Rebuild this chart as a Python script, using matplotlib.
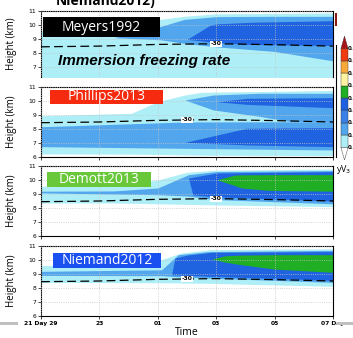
import numpy as np
import matplotlib.pyplot as plt
from matplotlib.patches import Rectangle, Polygon
from matplotlib.lines import Line2D

# time axis: hours after 21 UTC on day 29
tick_hours = [0, 2, 4, 6, 8, 10]
tick_labels = ['21 Day 29', '23', '01', '03', '05', '07 Day']
height_ticks = [6, 7, 8, 9, 10, 11]

# -30 C isotherm (same for every run)
t30_x = [0, 2, 4, 6, 8, 10]
t30_z = [8.45, 8.5, 8.62, 8.67, 8.6, 8.5]

# ---- Meyers1992 layers (x = hours, top / bottom = km)
mey_cyan_x = [0, 2, 3.7, 4.9, 6, 10]
mey_cyan_top = [9.6, 9.8, 10.3, 10.62, 10.8, 10.86]
mey_cyan_bot = [6.2, 6.2, 6.2, 6.2, 6.2, 6.2]
mey_med_x = [2.5, 4.1, 4.9, 6, 8, 10]
mey_med_top = [9.1, 9.9, 10.4, 10.6, 10.62, 10.62]
mey_med_bot = [9.1, 8.95, 8.7, 8.45, 8.12, 7.45]
mey_dark_x = [5.0, 5.8, 6.0, 7.2, 10]
mey_dark_top = [8.98, 10.0, 10.08, 10.2, 10.31]
mey_dark_bot = [8.98, 8.8, 8.75, 8.62, 8.55]

# ---- Phillips2013
phi_cyan_x = [0, 3.1, 4.0, 4.93, 5.5, 10]
phi_cyan_top = [8.95, 9.12, 9.95, 10.43, 10.62, 10.75]
phi_cyan_bot = [6.22, 6.2, 6.18, 6.15, 6.13, 6.1]
phi_medlo_x = [0, 4.9, 10]
phi_medlo_top = [8.16, 8.5, 8.52]
phi_medlo_bot = [6.74, 6.62, 6.5]
phi_medup_x = [4.93, 5.9, 7.5, 8.5, 10]
phi_medup_top = [10.07, 10.43, 10.55, 10.55, 10.55]
phi_medup_bot = [10.07, 9.36, 8.9, 8.55, 8.52]
phi_darkup_x = [6.02, 7.04, 10]
phi_darkup_top = [9.95, 10.19, 10.24]
phi_darkup_bot = [9.95, 9.76, 9.52]
phi_darklo_x = [4.93, 7.04, 10]
phi_darklo_top = [7.05, 8.05, 8.1]
phi_darklo_bot = [7.05, 6.86, 6.74]

# ---- Demott2013
dem_cyan_x = [0, 2.5, 4.0, 5.0, 6, 10]
dem_cyan_top = [9.55, 9.6, 10.0, 10.55, 10.7, 10.78]
dem_cyan_bot = [8.36, 8.36, 8.3, 8.26, 8.22, 8.1]
dem_med_x = [0, 2.5, 4.0, 5.05, 6, 10]
dem_med_top = [9.2, 9.22, 9.43, 10.38, 10.6, 10.67]
dem_med_bot = [9.08, 9.0, 8.95, 8.85, 8.6, 8.3]
dem_dark_x = [5.05, 5.2, 6.0, 10]
dem_dark_top = [10.14, 10.2, 10.5, 10.6]
dem_dark_bot = [10.14, 8.93, 8.8, 8.5]
dem_green_x = [6.02, 6.64, 6.87, 7.78, 10]
dem_green_top = [10.02, 10.35, 10.37, 10.38, 10.38]
dem_green_bot = [10.02, 9.6, 9.43, 9.26, 9.2]

# ---- Niemand2012
nie_cyan_x = [0, 3.6, 4.8, 5.8, 10]
nie_cyan_top = [9.6, 9.65, 10.5, 10.74, 10.8]
nie_cyan_bot = [8.4, 8.38, 8.36, 8.33, 8.12]
nie_med_x = [0, 4.13, 4.7, 5.73, 10]
nie_med_top = [9.19, 9.3, 10.38, 10.6, 10.69]
nie_med_bot = [8.9, 8.88, 8.8, 8.71, 8.4]
nie_dark_x = [4.47, 4.59, 5.0, 5.85, 10]
nie_dark_top = [8.95, 10.14, 10.35, 10.55, 10.6]
nie_dark_bot = [8.95, 8.94, 8.9, 8.83, 8.55]
nie_green_x = [5.85, 6.3, 6.87, 8.0, 10]
nie_green_top = [10.07, 10.3, 10.35, 10.38, 10.38]
nie_green_bot = [10.07, 9.85, 9.66, 9.35, 9.12]

CYAN = '#aeeef7'
MED = '#52a6ee'
DARK = '#1f63e0'
GREEN = '#1fae24'

# colorbar colours, low to high
cbar_colors = ['#aeeef7', '#52a6ee', '#3a80e8', '#1f5fe0',
               '#1fae24', '#fff3a0', '#f8a93a', '#f03a10']
cbar_over = '#a8141a'

panels = [
    dict(name='Meyers1992', box='black', ylim=(6.3, 11), rect=(11, 77),
         box_xy=(0.07, 4.08, 9.14, 10.57), lab_x=6.0,
         layers=[(mey_cyan_x, mey_cyan_bot, mey_cyan_top, CYAN),
                 (mey_med_x, mey_med_bot, mey_med_top, MED),
                 (mey_dark_x, mey_dark_bot, mey_dark_top, DARK)]),
    dict(name='Phillips2013', box='#f52a0f', ylim=(6, 11), rect=(87, 157),
         box_xy=(0.31, 4.19, 9.79, 10.79), lab_x=5.0,
         layers=[(phi_cyan_x, phi_cyan_bot, phi_cyan_top, CYAN),
                 (phi_medlo_x, phi_medlo_bot, phi_medlo_top, MED),
                 (phi_medup_x, phi_medup_bot, phi_medup_top, MED),
                 (phi_darkup_x, phi_darkup_bot, phi_darkup_top, DARK),
                 (phi_darklo_x, phi_darklo_bot, phi_darklo_top, DARK)]),
    dict(name='Demott2013', box='#68c83a', ylim=(6, 11), rect=(166, 236),
         box_xy=(0.2, 3.77, 9.5, 10.57), lab_x=6.0,
         layers=[(dem_cyan_x, dem_cyan_bot, dem_cyan_top, CYAN),
                 (dem_med_x, dem_med_bot, dem_med_top, MED),
                 (dem_dark_x, dem_dark_bot, dem_dark_top, DARK),
                 (dem_green_x, dem_green_bot, dem_green_top, GREEN)]),
    dict(name='Niemand2012', box='#1a4ff0', ylim=(6, 11), rect=(246, 316),
         box_xy=(0.42, 4.11, 9.43, 10.5), lab_x=5.0,
         layers=[(nie_cyan_x, nie_cyan_bot, nie_cyan_top, CYAN),
                 (nie_med_x, nie_med_bot, nie_med_top, MED),
                 (nie_dark_x, nie_dark_bot, nie_dark_top, DARK),
                 (nie_green_x, nie_green_bot, nie_green_top, GREEN)]),
]

W, H = 353, 338
fig = plt.figure(figsize=(W / 100, H / 100), dpi=100)

for i, p in enumerate(panels):
    top_px, bot_px = p['rect']
    ax = fig.add_axes([41 / W, 1 - bot_px / H, 292 / W, (bot_px - top_px) / H])
    for x, lo, hi, c in p['layers']:
        ax.fill_between(x, lo, hi, color=c, lw=0, zorder=1)

    ax.plot(t30_x, t30_z, color='black', lw=0.9, dashes=(7, 3.5), zorder=3)
    lx = p['lab_x']
    ax.text(lx, np.interp(lx, t30_x, t30_z), '-30', fontsize=4.3,
            fontweight='bold', ha='center', va='center', zorder=4,
            bbox=dict(fc='white', ec='none', pad=0.4))

    x0, x1, y0, y1 = p['box_xy']
    ax.add_patch(Rectangle((x0, y0), x1 - x0, y1 - y0, fc=p['box'],
                           ec='none', zorder=5))
    ax.text((x0 + x1) / 2, (y0 + y1) / 2, p['name'], color='white',
            fontsize=10, family='Open Sans', ha='center', va='center',
            zorder=6)

    ax.set_xlim(0, 10)
    ax.set_ylim(*p['ylim'])
    ax.set_xticks(tick_hours)
    ax.set_yticks([t for t in height_ticks if t >= p['ylim'][0]])
    ax.tick_params(labelsize=4.3, length=2, width=0.5, pad=1.5)
    ax.set_axisbelow(False)
    ax.grid(True, color='#c4c4c4', ls=':', lw=0.6)
    ax.set_ylabel('Height (km)', fontsize=7, family='Open Sans')
    ax.yaxis.set_label_coords(-0.082, 0.5)
    for s in ax.spines.values():
        s.set_linewidth(0.8)
    if i == 0:
        ax.spines['bottom'].set_visible(False)
        ax.tick_params(axis='x', length=0)
        ax.text(0.58, 7.43, 'Immersion freezing rate', fontsize=11,
                family='Liberation Sans', fontweight='bold', style='italic',
                ha='left', va='center', zorder=6)
    if i < 3:
        ax.set_xticklabels([])
    else:
        ax.set_xticklabels(tick_labels, fontweight='bold')
        ax.set_xlabel('Time', fontsize=7.5, family='Open Sans', labelpad=1)

# partial title cut by the top edge
fig.text(106 / W, 1 - 4.5 / H, 'Niemand2012)', fontsize=10,
         family='Open Sans', fontweight='bold', ha='center', va='baseline')

# colorbar on the right edge (labels squeezed at the edge)
cax = fig.add_axes([338 / W, 1 - 160 / H, 15 / W, 124 / H])
cax.set_xlim(0, 15)
cax.set_ylim(-1.0, len(cbar_colors) + 1.0)
cax.axis('off')
n = len(cbar_colors)
for k, c in enumerate(cbar_colors):
    cax.add_patch(Rectangle((3, k), 7, 1, fc=c, ec='#333333', lw=0.3))
for k in range(n + 1):
    cax.text(9.6, k, '0.', fontsize=4, fontweight='bold', va='center')
cax.add_patch(Polygon([(3, n), (10, n), (6.5, n + 1)], fc=cbar_over,
                      ec='#333333', lw=0.3))
cax.add_patch(Polygon([(3, 0), (10, 0), (6.5, -1)], fc='white',
                      ec='#333333', lw=0.3))

# bits of neighbouring slide content
fig.add_artist(Line2D([335.5 / W] * 2, [1 - 45 / H, 1 - 157 / H],
                      color='black', lw=0.8))
fig.add_artist(Rectangle((335 / W, 1 - 26 / H), 2 / W, 13 / H,
                         fc='#8b1a10', ec='none'))
fig.text(336 / W, 1 - 172 / H, 'yV$_3$', fontsize=6.5, family='Open Sans')
fig.add_artist(Rectangle((0, 1 - 325 / H), 18 / W, 3 / H, fc='#c0c0c0',
                         ec='none'))
fig.add_artist(Rectangle((337 / W, 1 - 325 / H), 16 / W, 3 / H,
                         fc='#c0c0c0', ec='none'))

fig.savefig('out.png', dpi=100)
